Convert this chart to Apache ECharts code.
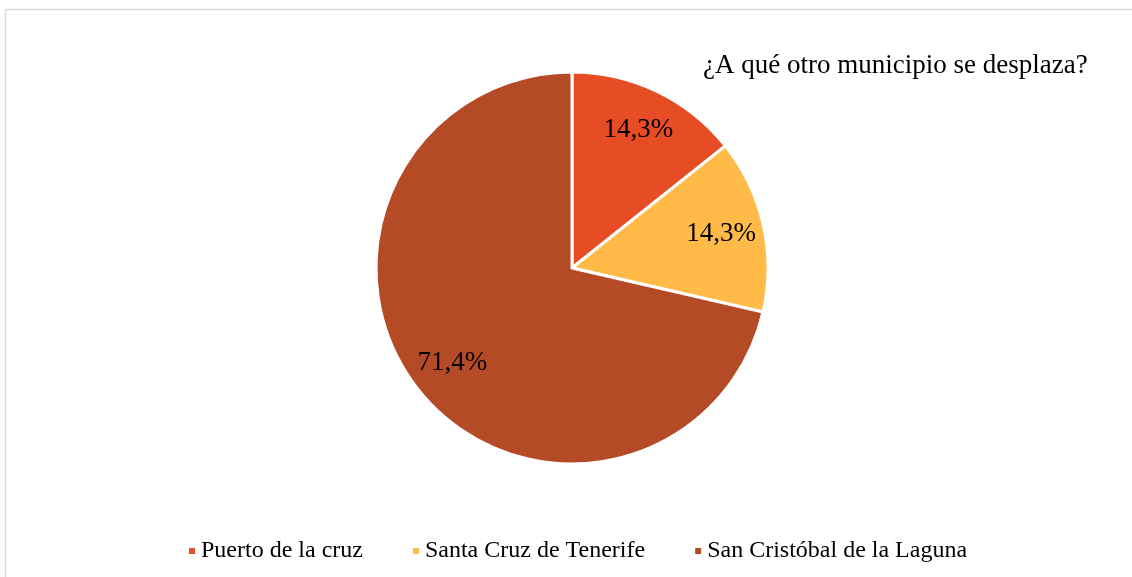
<!DOCTYPE html>
<html>
<head>
<meta charset="utf-8">
<script src="https://cdn.jsdelivr.net/npm/echarts@6/dist/echarts.min.js"></script>
<style>
    html, body {margin: 0; padding: 0; background: #fff;}
    #echartdiv {width: 1132px; height: 577px;}
</style>
</head>
<body>
<div id="echartdiv"></div>
<script>
// datos del grafico
var pName = ["Puerto de la cruz", "Santa Cruz de Tenerife", "San Cristóbal de la Laguna"];
var pValue = [14.3, 14.3, 71.4];
var pColor = ["#E64D25", "#FFBA47", "#B54A27"];
var pTitle = "¿A qué otro municipio se desplaza?";

var fontName = "'Liberation Serif', 'Times New Roman', serif";

function show_pie() {
    var pData = [];
    for (var i = 0; i < pName.length; i++) {
        pData.push({name: pName[i], value: pValue[i], itemStyle: {color: pColor[i]}});
    }

    var dom = document.getElementById("echartdiv");
    var myChart = echarts.init(dom, null, {renderer: 'canvas'});

    var option = {
        backgroundColor: '#fff',
        animation: false,
        title: {
            text: pTitle,
            left: 703,
            top: 52,
            padding: 0,
            textStyle: {fontFamily: fontName, fontSize: 27, fontWeight: 'normal', color: '#000'}
        },
        legend: {
            data: pName,
            left: 187,
            top: 539,
            padding: 0,
            icon: 'rect',
            itemWidth: 8,
            itemHeight: 8,
            itemGap: 48,
            textStyle: {fontFamily: fontName, fontSize: 24, color: '#000'}
        },
        graphic: [{
            // marco del grafico
            type: 'rect',
            shape: {x: 5.5, y: 9.5, width: 1140, height: 580},
            style: {fill: null, stroke: '#d9d9d9', lineWidth: 1.5},
            silent: true
        }],
        series: [
            {
                type: 'pie',
                center: [572, 268],
                radius: [0, 196],
                startAngle: 90,
                clockwise: true,
                data: pData,
                label: {show: false},
                labelLine: {show: false},
                itemStyle: {borderColor: '#fff', borderWidth: 3},
                emphasis: {disabled: true}
            },
            {
                // capa transparente solo para colocar las etiquetas
                type: 'pie',
                center: [572, 268],
                radius: [104, 196],
                startAngle: 90,
                clockwise: true,
                silent: true,
                data: pData.map(function (d) {
                    return {name: d.name, value: d.value, itemStyle: {color: 'rgba(0,0,0,0)', borderWidth: 0}};
                }),
                label: {
                    show: true,
                    position: 'inside',
                    fontFamily: fontName,
                    fontSize: 27,
                    color: '#000',
                    formatter: function (p) {
                        return p.value.toFixed(1).replace('.', ',') + '%';
                    }
                },
                labelLine: {show: false},
                emphasis: {disabled: true}
            }
        ]
    };

    myChart.setOption(option);
}

show_pie();
</script>
</body>
</html>
